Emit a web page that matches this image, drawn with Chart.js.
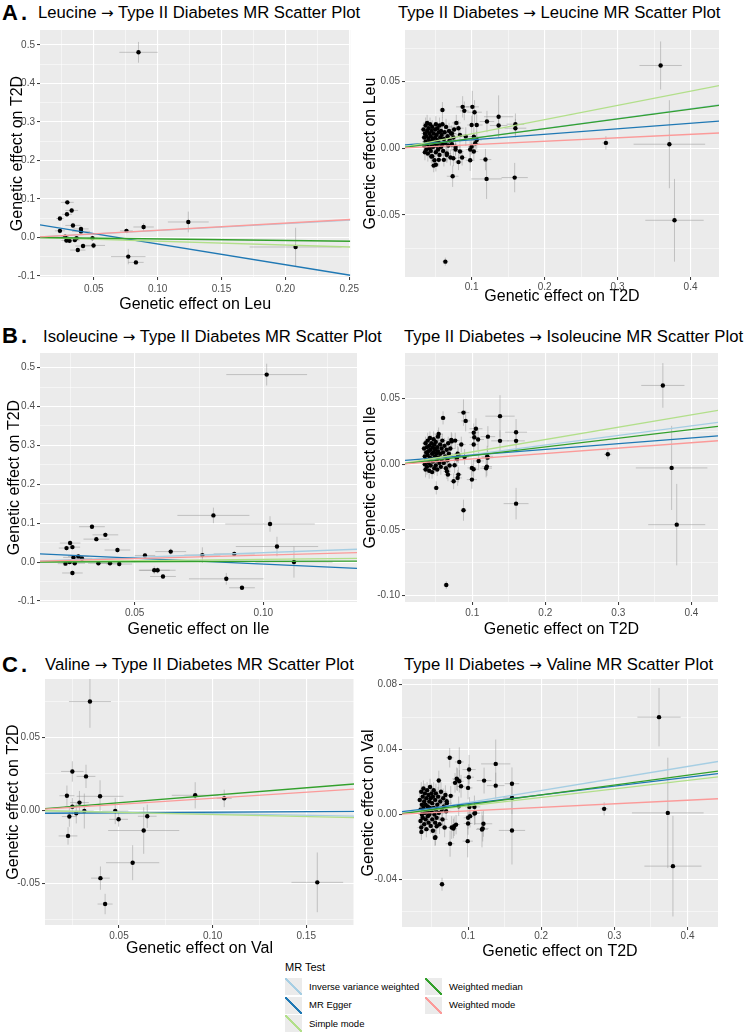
<!DOCTYPE html>
<html>
<head>
<meta charset="utf-8">
<script src="https://cdn.jsdelivr.net/npm/chart.js@4.4.1/dist/chart.umd.min.js"></script>
<style>
  body { margin: 0; background: #fff; font-family: "Liberation Sans", Arial, sans-serif; }
  #page { position: relative; width: 744px; height: 1034px; overflow: hidden; }
  canvas { position: absolute; }
  .tag { position: absolute; font-size: 22px; font-weight: bold; line-height: 24px; letter-spacing: 3px; }
  .ttl { position: absolute; font-size: 16.7px; line-height: 20px; white-space: nowrap; color: #000; }
  .arr { font-family: "DejaVu Sans", sans-serif; font-size: 15px; }
  .lg-title { position: absolute; font-size: 11px; line-height: 14px; }
  .lg-key { position: absolute; width: 17px; height: 17px; }
  .lg-text { position: absolute; font-size: 9.5px; line-height: 12px; white-space: nowrap; }
</style>
</head>
<body>
<div id="page">
  <div class="tag" style="left:2px;top:1px">A.</div>
  <div class="ttl" style="left:38px;top:3px">Leucine <span class="arr">→</span> Type II Diabetes MR Scatter Plot</div>
  <div class="ttl" style="left:398px;top:3px">Type II Diabetes <span class="arr">→</span> Leucine MR Scatter Plot</div>
  <div class="tag" style="left:2px;top:324px">B.</div>
  <div class="ttl" style="left:43px;top:327px">Isoleucine <span class="arr">→</span> Type II Diabetes MR Scatter Plot</div>
  <div class="ttl" style="left:404px;top:327px">Type II Diabetes <span class="arr">→</span> Isoleucine MR Scatter Plot</div>
  <div class="tag" style="left:2px;top:653px">C.</div>
  <div class="ttl" style="left:45px;top:655px">Valine <span class="arr">→</span> Type II Diabetes MR Scatter Plot</div>
  <div class="ttl" style="left:404px;top:655px">Type II Diabetes <span class="arr">→</span> Valine MR Scatter Plot</div>
  <div id="legend"></div>
</div>
<script>
// MR methods, in legend order
const methodNames = ['Inverse variance weighted', 'MR Egger', 'Simple mode', 'Weighted median', 'Weighted mode'];
const methodColors = ['#a6cee3', '#1f78b4', '#b2df8a', '#33a02c', '#fb9a99'];

// SNP effects: [exposure beta, outcome beta, exposure se, outcome se]
const leuToT2d = [
  [0.085, 0.481, 0.015, 0.027], [0.124, 0.040, 0.016, 0.027], [0.208, -0.025, 0.036, 0.05],
  [0.077, -0.050, 0.0135, 0.02], [0.083, -0.065, 0.006, 0.006], [0.0756, 0.017, 0.005, 0.006],
  [0.089, 0.027, 0.008, 0.01], [0.0293, 0.091, 0.005, 0.006], [0.0327, 0.070, 0.005, 0.006],
  [0.029, 0.060, 0.004, 0.007], [0.0235, 0.049, 0.003, 0.006], [0.0337, 0.031, 0.006, 0.007],
  [0.040, 0.022, 0.006, 0.006], [0.040, 0.0155, 0.007, 0.005], [0.0235, 0.017, 0.004, 0.007],
  [0.0276, 0.002, 0.003, 0.005], [0.0286, -0.008, 0.004, 0.006], [0.031, -0.009, 0.004, 0.006],
  [0.0352, -0.007, 0.004, 0.006], [0.0365, -0.002, 0.004, 0.005], [0.049, -0.002, 0.004, 0.006],
  [0.0375, -0.033, 0.006, 0.006], [0.0416, -0.0225, 0.006, 0.006], [0.0498, -0.021, 0.009, 0.008]
];
const t2dToLeu = [
  [0.359, 0.062, 0.029, 0.018], [0.284, 0.004, 0.005, 0.005], [0.371, 0.003, 0.049, 0.033],
  [0.378, -0.054, 0.040, 0.031], [0.064, -0.085, 0.004, 0.003], [0.159, -0.022, 0.018, 0.011],
  [0.1205, -0.023, 0.021, 0.015], [0.119, -0.0085, 0.008, 0.008], [0.074, -0.021, 0.008, 0.008],
  [0.137, 0.0236, 0.02, 0.016], [0.137, 0.017, 0.012, 0.008], [0.160, 0.018, 0.012, 0.008],
  [0.160, 0.015, 0.015, 0.007], [0.121, 0.020, 0.01, 0.008], [0.101, 0.031, 0.009, 0.012],
  [0.0877, 0.031, 0.009, 0.008], [0.090, 0.028, 0.006, 0.007], [0.104, 0.027, 0.01, 0.009],
  [0.060, 0.0286, 0.004, 0.006], [0.107, 0.0174, 0.008, 0.008], [0.100, 0.0174, 0.006, 0.007],
  [0.079, 0.019, 0.006, 0.006], [0.082, 0.015, 0.007, 0.006], [0.084, 0.010, 0.006, 0.006],
  [0.073, 0.011, 0.006, 0.006], [0.092, 0.0087, 0.007, 0.007], [0.103, 0.0087, 0.006, 0.007],
  [0.107, 0.0062, 0.007, 0.007], [0.105, 0.0037, 0.006, 0.006], [0.100, 0.0012, 0.005, 0.006],
  [0.098, -0.001, 0.006, 0.007], [0.103, -0.0025, 0.006, 0.006], [0.078, -0.001, 0.005, 0.005],
  [0.084, -0.0025, 0.005, 0.006], [0.075, -0.0075, 0.005, 0.006], [0.087, -0.007, 0.006, 0.006],
  [0.082, -0.0104, 0.005, 0.006], [0.098, -0.009, 0.006, 0.008], [0.051, -0.0124, 0.004, 0.005],
  [0.055, -0.0087, 0.005, 0.005], [0.066, -0.005, 0.005, 0.006], [0.062, -0.0087, 0.005, 0.005],
  [0.0447, -0.0062, 0.004, 0.005],
  [0.034, 0.014, 0.004, 0.005], [0.035, 0.008, 0.004, 0.006], [0.035, 0.002, 0.004, 0.005],
  [0.036, -0.003, 0.004, 0.006], [0.036, 0.011, 0.005, 0.005], [0.037, 0.017, 0.004, 0.006],
  [0.037, 0.005, 0.005, 0.005], [0.038, -0.001, 0.004, 0.005], [0.038, 0.009, 0.005, 0.006],
  [0.039, 0.013, 0.004, 0.005], [0.039, 0.019, 0.005, 0.006], [0.040, 0.003, 0.005, 0.005],
  [0.040, -0.004, 0.004, 0.006], [0.041, 0.007, 0.005, 0.005], [0.041, 0.015, 0.005, 0.006],
  [0.042, 0.011, 0.005, 0.005], [0.042, 0.000, 0.004, 0.005], [0.043, 0.005, 0.005, 0.006],
  [0.043, 0.018, 0.005, 0.005], [0.044, -0.002, 0.005, 0.006], [0.044, 0.009, 0.005, 0.005],
  [0.045, 0.013, 0.005, 0.006], [0.045, 0.003, 0.005, 0.005], [0.046, -0.006, 0.005, 0.006],
  [0.046, 0.016, 0.005, 0.005], [0.047, 0.007, 0.005, 0.006], [0.047, 0.001, 0.005, 0.005],
  [0.048, -0.013, 0.004, 0.005], [0.048, 0.011, 0.005, 0.006], [0.049, 0.004, 0.005, 0.005],
  [0.049, -0.009, 0.005, 0.006], [0.050, 0.014, 0.006, 0.005], [0.050, 0.008, 0.005, 0.006],
  [0.051, 0.018, 0.006, 0.006], [0.051, -0.003, 0.005, 0.005], [0.052, 0.002, 0.006, 0.006],
  [0.052, 0.010, 0.005, 0.005], [0.053, 0.006, 0.006, 0.006], [0.053, 0.015, 0.005, 0.005],
  [0.054, -0.001, 0.006, 0.006], [0.055, 0.012, 0.006, 0.005], [0.055, 0.004, 0.005, 0.006],
  [0.056, 0.017, 0.006, 0.006], [0.056, -0.005, 0.005, 0.005], [0.057, 0.008, 0.006, 0.006],
  [0.058, 0.001, 0.006, 0.005], [0.058, 0.013, 0.006, 0.006], [0.059, 0.010, 0.006, 0.005],
  [0.060, 0.003, 0.006, 0.006], [0.060, 0.018, 0.006, 0.005], [0.061, -0.002, 0.006, 0.006],
  [0.062, 0.007, 0.006, 0.005], [0.063, 0.012, 0.006, 0.006], [0.064, 0.004, 0.006, 0.005],
  [0.065, 0.016, 0.007, 0.006], [0.066, -0.004, 0.006, 0.006], [0.067, 0.009, 0.007, 0.005],
  [0.068, 0.002, 0.006, 0.006], [0.069, 0.013, 0.007, 0.006], [0.070, 0.006, 0.007, 0.005],
  [0.071, -0.007, 0.006, 0.006], [0.072, 0.011, 0.007, 0.006], [0.073, 0.003, 0.007, 0.005],
  [0.075, 0.008, 0.007, 0.006], [0.076, 0.014, 0.007, 0.006], [0.078, 0.001, 0.007, 0.006]
];
const ileToT2d = [
  [0.1013, 0.482, 0.0157, 0.028], [0.0806, 0.120, 0.014, 0.02], [0.1026, 0.098, 0.0174, 0.02],
  [0.1053, 0.040, 0.016, 0.025], [0.1119, 0.0, 0.015, 0.04], [0.0917, -0.066, 0.005, 0.004],
  [0.0856, -0.043, 0.0145, 0.015], [0.0887, 0.021, 0.008, 0.006], [0.0763, 0.018, 0.007, 0.02],
  [0.064, 0.027, 0.006, 0.008], [0.054, 0.017, 0.004, 0.006], [0.0576, -0.021, 0.006, 0.01],
  [0.0589, -0.021, 0.007, 0.008], [0.061, -0.037, 0.005, 0.006], [0.0433, 0.031, 0.005, 0.006],
  [0.044, -0.005, 0.005, 0.006], [0.0404, -0.003, 0.004, 0.005], [0.0386, 0.070, 0.005, 0.006],
  [0.0351, 0.059, 0.005, 0.006], [0.0334, 0.091, 0.005, 0.006], [0.0359, -0.003, 0.004, 0.005],
  [0.0249, 0.049, 0.004, 0.006], [0.0235, 0.036, 0.003, 0.006], [0.0258, 0.0385, 0.003, 0.006],
  [0.0262, 0.012, 0.004, 0.006], [0.0281, 0.0146, 0.004, 0.006], [0.0295, 0.0094, 0.004, 0.005],
  [0.0231, -0.004, 0.003, 0.005], [0.0247, 0.0, 0.003, 0.005], [0.0267, -0.003, 0.004, 0.005],
  [0.0258, -0.028, 0.004, 0.006]
];
const t2dToIle = [
  [0.361, 0.060, 0.0296, 0.017], [0.2856, 0.0076, 0.005, 0.004], [0.373, -0.0028, 0.049, 0.032],
  [0.380, -0.046, 0.039, 0.031], [0.160, -0.030, 0.017, 0.012], [0.088, -0.035, 0.004, 0.008],
  [0.0644, -0.092, 0.004, 0.003], [0.138, 0.0366, 0.02, 0.016], [0.138, 0.0178, 0.012, 0.008],
  [0.160, 0.0244, 0.015, 0.01], [0.160, 0.0178, 0.012, 0.007], [0.1214, 0.021, 0.01, 0.008],
  [0.1205, 0.006, 0.008, 0.008], [0.119, -0.003, 0.008, 0.007], [0.088, 0.0393, 0.008, 0.01],
  [0.091, 0.033, 0.006, 0.008], [0.060, 0.0353, 0.004, 0.005], [0.105, 0.027, 0.009, 0.008],
  [0.102, 0.024, 0.007, 0.007], [0.108, 0.0188, 0.008, 0.008], [0.1027, 0.0205, 0.006, 0.007],
  [0.085, 0.015, 0.006, 0.006], [0.0767, 0.018, 0.006, 0.006], [0.0713, 0.0185, 0.005, 0.006],
  [0.081, 0.0069, 0.006, 0.006], [0.102, 0.015, 0.006, 0.007], [0.1087, 0.0025, 0.007, 0.007],
  [0.121, 0.005, 0.008, 0.007], [0.12, -0.0018, 0.007, 0.007], [0.0995, -0.0028, 0.006, 0.006],
  [0.1018, -0.0038, 0.006, 0.007], [0.0995, -0.0117, 0.007, 0.007], [0.080, -0.0104, 0.006, 0.006],
  [0.0745, -0.013, 0.005, 0.006], [0.081, -0.0079, 0.005, 0.006], [0.0653, -0.0053, 0.005, 0.006],
  [0.0667, -0.0079, 0.005, 0.005], [0.0507, -0.018, 0.004, 0.005], [0.0758, -0.0008, 0.005, 0.006],
  [0.0895, 0.0056, 0.006, 0.006], [0.079, 0.004, 0.005, 0.006], [0.080, 0.008, 0.005, 0.006],
  [0.072, 0.0175, 0.005, 0.006],
  [0.034, 0.012, 0.004, 0.005], [0.035, 0.006, 0.004, 0.006], [0.035, 0.000, 0.004, 0.005],
  [0.036, -0.004, 0.004, 0.006], [0.036, 0.016, 0.005, 0.005], [0.037, 0.009, 0.004, 0.006],
  [0.037, 0.003, 0.005, 0.005], [0.038, 0.013, 0.004, 0.005], [0.038, -0.002, 0.005, 0.006],
  [0.039, 0.007, 0.004, 0.005], [0.039, 0.018, 0.005, 0.006], [0.040, 0.010, 0.005, 0.005],
  [0.040, 0.001, 0.004, 0.006], [0.041, 0.014, 0.005, 0.005], [0.041, -0.005, 0.005, 0.006],
  [0.042, 0.005, 0.005, 0.005], [0.042, 0.020, 0.004, 0.005], [0.043, 0.011, 0.005, 0.006],
  [0.043, -0.001, 0.005, 0.005], [0.044, 0.016, 0.005, 0.006], [0.044, 0.004, 0.005, 0.005],
  [0.045, 0.008, 0.005, 0.006], [0.045, -0.006, 0.005, 0.005], [0.046, 0.013, 0.005, 0.006],
  [0.046, 0.002, 0.005, 0.005], [0.047, 0.019, 0.005, 0.006], [0.047, 0.009, 0.005, 0.005],
  [0.048, -0.003, 0.004, 0.005], [0.048, 0.015, 0.005, 0.006], [0.049, 0.006, 0.005, 0.005],
  [0.049, 0.011, 0.005, 0.006], [0.050, -0.001, 0.006, 0.005], [0.050, 0.017, 0.005, 0.006],
  [0.051, 0.003, 0.006, 0.006], [0.051, 0.008, 0.005, 0.005], [0.052, 0.013, 0.006, 0.006],
  [0.052, -0.004, 0.005, 0.005], [0.053, 0.010, 0.006, 0.006], [0.053, 0.021, 0.005, 0.005],
  [0.054, 0.005, 0.006, 0.006], [0.054, 0.023, 0.006, 0.005], [0.055, 0.001, 0.005, 0.006],
  [0.056, 0.015, 0.006, 0.006], [0.056, 0.008, 0.005, 0.005], [0.057, -0.002, 0.006, 0.006],
  [0.058, 0.012, 0.006, 0.005], [0.058, 0.004, 0.006, 0.006], [0.059, 0.018, 0.006, 0.005],
  [0.060, 0.009, 0.006, 0.006], [0.061, 0.001, 0.006, 0.005], [0.062, 0.014, 0.006, 0.006],
  [0.063, 0.006, 0.006, 0.005], [0.064, -0.003, 0.006, 0.006], [0.065, 0.011, 0.007, 0.006],
  [0.066, 0.003, 0.006, 0.006], [0.067, 0.016, 0.007, 0.005], [0.068, 0.008, 0.006, 0.006],
  [0.069, -0.001, 0.007, 0.006], [0.070, 0.012, 0.007, 0.005]
];
const valToT2d = [
  [0.0345, 0.0747, 0.0112, 0.018], [0.0251, 0.0267, 0.006, 0.007], [0.0222, 0.0100, 0.004, 0.007],
  [0.0324, 0.0233, 0.005, 0.008], [0.0399, 0.0096, 0.0125, 0.011], [0.0289, 0.0053, 0.005, 0.008],
  [0.0251, 0.0025, 0.004, 0.006], [0.0315, -0.0005, 0.005, 0.012], [0.0272, -0.002, 0.004, 0.007],
  [0.0235, -0.0043, 0.004, 0.007], [0.0228, -0.0176, 0.005, 0.006], [0.048, -0.0005, 0.007, 0.009],
  [0.0498, -0.0062, 0.005, 0.005], [0.0651, -0.0041, 0.005, 0.008], [0.0632, -0.0139, 0.019, 0.016],
  [0.0573, -0.036, 0.0142, 0.012], [0.0401, -0.0466, 0.005, 0.008], [0.0426, -0.0644, 0.004, 0.007],
  [0.0907, 0.0103, 0.0125, 0.009], [0.1062, 0.0082, 0.004, 0.006], [0.1559, -0.0495, 0.0138, 0.0205]
];
const t2dToVal = [
  [0.361, 0.060, 0.0296, 0.018], [0.286, 0.0035, 0.005, 0.004], [0.373, 0.001, 0.049, 0.034],
  [0.380, -0.0318, 0.039, 0.031], [0.0644, -0.043, 0.004, 0.004], [0.160, -0.0098, 0.018, 0.021],
  [0.160, 0.0103, 0.012, 0.01], [0.160, 0.019, 0.01, 0.01], [0.1378, 0.0312, 0.02, 0.015],
  [0.1378, 0.0178, 0.012, 0.008], [0.1219, 0.0209, 0.01, 0.008], [0.121, -0.0057, 0.012, 0.008],
  [0.119, -0.0092, 0.008, 0.011], [0.1087, 0.0006, 0.007, 0.007], [0.1087, 0.0047, 0.008, 0.007],
  [0.1014, 0.0277, 0.009, 0.009], [0.101, 0.023, 0.007, 0.008], [0.100, 0.0164, 0.006, 0.007],
  [0.100, -0.002, 0.006, 0.007], [0.100, -0.0055, 0.006, 0.007], [0.0995, -0.0164, 0.007, 0.01],
  [0.088, 0.0324, 0.006, 0.009], [0.0749, 0.035, 0.005, 0.006], [0.0754, -0.018, 0.006, 0.008],
  [0.081, -0.0072, 0.005, 0.006], [0.0776, -0.008, 0.005, 0.007], [0.0553, -0.0139, 0.004, 0.005],
  [0.0362, -0.0107, 0.003, 0.005], [0.060, 0.021, 0.004, 0.006], [0.0854, 0.0215, 0.006, 0.007],
  [0.0845, 0.022, 0.006, 0.007], [0.0822, 0.0195, 0.005, 0.006], [0.088, 0.0205, 0.006, 0.007],
  [0.0904, 0.0174, 0.006, 0.007], [0.0763, 0.0115, 0.005, 0.006], [0.0708, 0.0082, 0.005, 0.006],
  [0.0872, 0.0051, 0.006, 0.006], [0.1018, 0.0047, 0.006, 0.006], [0.1027, -0.001, 0.006, 0.007],
  [0.1096, 0.001, 0.007, 0.007], [0.12, -0.0086, 0.008, 0.008], [0.080, -0.0086, 0.005, 0.006],
  [0.0836, -0.0062, 0.005, 0.006], [0.0571, -0.0072, 0.004, 0.005], [0.0549, -0.0144, 0.004, 0.005],
  [0.034, 0.009, 0.004, 0.005], [0.035, 0.003, 0.004, 0.006], [0.035, -0.004, 0.004, 0.005],
  [0.036, 0.014, 0.004, 0.006], [0.036, -0.008, 0.005, 0.005], [0.037, 0.006, 0.004, 0.006],
  [0.037, 0.000, 0.005, 0.005], [0.038, 0.011, 0.004, 0.005], [0.038, -0.002, 0.005, 0.006],
  [0.039, 0.016, 0.004, 0.005], [0.039, 0.004, 0.005, 0.006], [0.040, -0.006, 0.005, 0.005],
  [0.040, 0.008, 0.004, 0.006], [0.041, 0.001, 0.005, 0.005], [0.041, 0.013, 0.005, 0.006],
  [0.042, -0.003, 0.005, 0.005], [0.042, 0.006, 0.004, 0.005], [0.043, 0.010, 0.005, 0.006],
  [0.043, -0.009, 0.005, 0.005], [0.044, 0.002, 0.005, 0.006], [0.044, 0.015, 0.005, 0.005],
  [0.045, 0.005, 0.005, 0.006], [0.045, -0.001, 0.005, 0.005], [0.046, 0.012, 0.005, 0.006],
  [0.046, -0.005, 0.005, 0.005], [0.047, 0.008, 0.005, 0.006], [0.047, 0.000, 0.005, 0.005],
  [0.048, 0.017, 0.004, 0.005], [0.048, 0.004, 0.005, 0.006], [0.049, -0.007, 0.005, 0.005],
  [0.049, 0.010, 0.005, 0.006], [0.050, 0.002, 0.006, 0.005], [0.050, 0.013, 0.005, 0.006],
  [0.051, -0.003, 0.006, 0.006], [0.051, 0.007, 0.005, 0.005], [0.052, 0.011, 0.006, 0.006],
  [0.052, -0.010, 0.005, 0.005], [0.053, 0.004, 0.006, 0.006], [0.053, 0.015, 0.005, 0.005],
  [0.054, 0.000, 0.006, 0.006], [0.055, 0.009, 0.006, 0.005], [0.055, -0.005, 0.005, 0.006],
  [0.056, 0.013, 0.006, 0.006], [0.056, 0.003, 0.005, 0.005], [0.057, -0.002, 0.006, 0.006],
  [0.058, 0.006, 0.006, 0.005], [0.059, 0.011, 0.006, 0.006], [0.060, 0.001, 0.006, 0.005],
  [0.061, -0.006, 0.006, 0.006], [0.062, 0.008, 0.006, 0.005], [0.063, 0.014, 0.006, 0.006],
  [0.064, 0.003, 0.006, 0.005], [0.065, -0.003, 0.007, 0.006], [0.066, 0.010, 0.006, 0.006],
  [0.067, 0.005, 0.007, 0.005], [0.068, -0.008, 0.006, 0.006], [0.069, 0.012, 0.007, 0.006],
  [0.070, 0.002, 0.007, 0.005], [0.071, 0.007, 0.007, 0.006]
];

// MR estimates per method (methodNames order)
const leuToT2dSlopes = [0.178, -0.54, -0.10, -0.04, 0.185];
const leuToT2dIntercepts = [0, 0.037, 0, 0, 0];
const t2dToLeuSlopes = [0.074, 0.0416, 0.107, 0.073, 0.026];
const t2dToLeuIntercepts = [0, 0.0021, 0, 0, 0];
const ileToT2dSlopes = [0.242, -0.30, 0.069, 0.02, 0.18];
const ileToT2dIntercepts = [0, 0.025, 0, 0, 0];
const t2dToIleSlopes = [0.073, 0.0434, 0.094, 0.066, 0.041];
const t2dToIleIntercepts = [0, 0.00266, 0, 0, 0];
const valToT2dSlopes = [-0.023, 0.0079, -0.0285, 0.103, 0.083];
const valToT2dIntercepts = [0, -0.0021, 0, 0, 0];
const t2dToValSlopes = [0.074, 0.0542, 0.0525, 0.0605, 0.022];
const t2dToValIntercepts = [0, 0.00127, 0, 0, 0];

// axis ranges
const leuToT2dXRange = [0.0079, 0.2508], leuToT2dYRange = [-0.103, 0.539];
const t2dToLeuXRange = [0.0087, 0.439], t2dToLeuYRange = [-0.0965, 0.0886];
const ileToT2dXRange = [0.0132, 0.1364], ileToT2dYRange = [-0.1026, 0.5375];
const t2dToIleXRange = [0.0079, 0.4365], t2dToIleYRange = [-0.1049, 0.0847];
const valToT2dXRange = [0.0105, 0.1755], valToT2dYRange = [-0.0788, 0.0902];
const t2dToValXRange = [0.0097, 0.4416], t2dToValYRange = [-0.0693, 0.0835];

// ticks: major values, their labels, minor grid values
const t2dOutTicks = [-0.1, 0, 0.1, 0.2, 0.3, 0.4, 0.5];
const t2dOutLabels = ['-0.1', '0.0', '0.1', '0.2', '0.3', '0.4', '0.5'];
const t2dOutMinor = [-0.05, 0.05, 0.15, 0.25, 0.35, 0.45];
const t2dExpTicks = [0.1, 0.2, 0.3, 0.4];
const t2dExpLabels = ['0.1', '0.2', '0.3', '0.4'];
const t2dExpMinor = [0.05, 0.15, 0.25, 0.35];
const leuExpTicks = [0.05, 0.10, 0.15, 0.20, 0.25];
const leuExpLabels = ['0.05', '0.10', '0.15', '0.20', '0.25'];
const leuExpMinor = [0.025, 0.075, 0.125, 0.175, 0.225];
const leuOutTicks = [-0.05, 0, 0.05];
const leuOutLabels = ['-0.05', '0.00', '0.05'];
const leuOutMinor = [-0.075, -0.025, 0.025, 0.075];
const ileExpTicks = [0.05, 0.10];
const ileExpLabels = ['0.05', '0.10'];
const ileExpMinor = [0.025, 0.075, 0.125];
const ileOutTicks = [-0.10, -0.05, 0, 0.05];
const ileOutLabels = ['-0.10', '-0.05', '0.00', '0.05'];
const ileOutMinor = [-0.075, -0.025, 0.025, 0.075];
const valExpTicks = [0.05, 0.10, 0.15];
const valExpLabels = ['0.05', '0.10', '0.15'];
const valExpMinor = [0.025, 0.075, 0.125, 0.175];
const valT2dTicks = [-0.05, 0, 0.05];
const valT2dLabels = ['-0.05', '0.00', '0.05'];
const valT2dMinor = [-0.075, -0.025, 0.025, 0.075];
const valOutTicks = [-0.04, 0, 0.04, 0.08];
const valOutLabels = ['-0.04', '0.00', '0.04', '0.08'];
const valOutMinor = [-0.06, -0.02, 0.02, 0.06];

const FONT = '"Liberation Sans", Arial, sans-serif';
Chart.defaults.font.family = FONT;

// canvas box and plot area for each panel (page px)
const panels = [
  { pts: leuToT2d, slopes: leuToT2dSlopes, icpts: leuToT2dIntercepts, xr: leuToT2dXRange, yr: leuToT2dYRange,
    x: [leuExpTicks, leuExpLabels, leuExpMinor], y: [t2dOutTicks, t2dOutLabels, t2dOutMinor],
    xTitle: 'Genetic effect on Leu', yTitle: 'Genetic effect on T2D',
    box: { left: 0, top: 22, right: 362, bottom: 314, pl: 40, pt: 29, pr: 357, pb: 277, yPad: 8, xPad: 3 } },
  { pts: t2dToLeu, slopes: t2dToLeuSlopes, icpts: t2dToLeuIntercepts, xr: t2dToLeuXRange, yr: t2dToLeuYRange,
    x: [t2dExpTicks, t2dExpLabels, t2dExpMinor], y: [leuOutTicks, leuOutLabels, leuOutMinor],
    xTitle: 'Genetic effect on T2D', yTitle: 'Genetic effect on Leu',
    box: { left: 358, top: 22, right: 724, bottom: 306, pl: 405, pt: 29, pr: 719, pb: 277, yPad: 3, xPad: 1 } },
  { pts: ileToT2d, slopes: ileToT2dSlopes, icpts: ileToT2dIntercepts, xr: ileToT2dXRange, yr: ileToT2dYRange,
    x: [ileExpTicks, ileExpLabels, ileExpMinor], y: [t2dOutTicks, t2dOutLabels, t2dOutMinor],
    xTitle: 'Genetic effect on Ile', yTitle: 'Genetic effect on T2D',
    box: { left: 0, top: 345, right: 362, bottom: 639, pl: 40, pt: 353, pr: 357, pb: 602, yPad: 5, xPad: 2 } },
  { pts: t2dToIle, slopes: t2dToIleSlopes, icpts: t2dToIleIntercepts, xr: t2dToIleXRange, yr: t2dToIleYRange,
    x: [t2dExpTicks, t2dExpLabels, t2dExpMinor], y: [ileOutTicks, ileOutLabels, ileOutMinor],
    xTitle: 'Genetic effect on T2D', yTitle: 'Genetic effect on Ile',
    box: { left: 358, top: 345, right: 724, bottom: 639, pl: 405, pt: 353, pr: 718, pb: 602, yPad: 3, xPad: 2 } },
  { pts: valToT2d, slopes: valToT2dSlopes, icpts: valToT2dIntercepts, xr: valToT2dXRange, yr: valToT2dYRange,
    x: [valExpTicks, valExpLabels, valExpMinor], y: [valT2dTicks, valT2dLabels, valT2dMinor],
    xTitle: 'Genetic effect on Val', yTitle: 'Genetic effect on T2D',
    box: { left: 0, top: 671, right: 360, bottom: 958, pl: 45, pt: 678, pr: 354, pb: 925, yPad: 4, xPad: 2 } },
  { pts: t2dToVal, slopes: t2dToValSlopes, icpts: t2dToValIntercepts, xr: t2dToValXRange, yr: t2dToValYRange,
    x: [t2dExpTicks, t2dExpLabels, t2dExpMinor], y: [valOutTicks, valOutLabels, valOutMinor],
    xTitle: 'Genetic effect on T2D', yTitle: 'Genetic effect on Val',
    box: { left: 358, top: 671, right: 724, bottom: 961, pl: 402, pt: 678, pr: 718, pb: 927, yPad: 1, xPad: 0 } }
];

const isMajor = (majors, v) => majors.some(m => Math.abs(m - v) < 1e-9);

function axis(range, ticks, title, isX, b) {
  const [majors, labels, minors] = ticks;
  const all = majors.concat(minors).filter(v => v >= range[0] && v <= range[1]).sort((a, c) => a - c);
  return {
    type: 'linear',
    position: isX ? 'bottom' : 'left',
    min: range[0],
    max: range[1],
    afterBuildTicks: s => { s.ticks = all.map(v => ({ value: v })); },
    afterFit: s => {
      if (isX) s.height = b.bottom - b.pb;
      else s.width = b.pl - b.left;
    },
    border: { display: false },
    grid: {
      color: '#ffffff',
      lineWidth: c => (c.tick && isMajor(majors, c.tick.value)) ? 1.1 : 0.5,
      drawTicks: true,
      tickLength: 3,
      tickWidth: 1,
      tickColor: c => (c.tick && isMajor(majors, c.tick.value)) ? '#333333' : 'rgba(0,0,0,0)'
    },
    ticks: {
      autoSkip: false,
      maxRotation: 0,
      padding: isX ? b.xPad : 2,
      color: '#4d4d4d',
      font: { size: 10 },
      callback: v => {
        const i = majors.findIndex(m => Math.abs(m - v) < 1e-9);
        return i < 0 ? '' : labels[i];
      }
    },
    title: {
      display: true,
      text: title,
      color: '#000',
      font: { size: 16 },
      padding: isX ? { top: 0, bottom: 0 } : { top: b.yPad, bottom: 0 }
    }
  };
}

const panelBg = {
  id: 'panelBg',
  beforeDraw(chart) {
    const a = chart.chartArea, ctx = chart.ctx;
    ctx.save();
    ctx.fillStyle = '#ebebeb';
    ctx.fillRect(a.left, a.top, a.right - a.left, a.bottom - a.top);
    ctx.restore();
  }
};

function errorBars(pts) {
  return {
    id: 'errorBars',
    beforeDatasetsDraw(chart) {
      const xs = chart.scales.x, ys = chart.scales.y, a = chart.chartArea, ctx = chart.ctx;
      ctx.save();
      ctx.beginPath();
      ctx.rect(a.left, a.top, a.right - a.left, a.bottom - a.top);
      ctx.clip();
      ctx.strokeStyle = 'rgba(140,140,140,0.45)';
      ctx.lineWidth = 1;
      pts.forEach(([bx, by, sx, sy]) => {
        const px = xs.getPixelForValue(bx), py = ys.getPixelForValue(by);
        ctx.beginPath();
        ctx.moveTo(xs.getPixelForValue(bx - sx), py);
        ctx.lineTo(xs.getPixelForValue(bx + sx), py);
        ctx.moveTo(px, ys.getPixelForValue(by - sy));
        ctx.lineTo(px, ys.getPixelForValue(by + sy));
        ctx.stroke();
      });
      ctx.restore();
    }
  };
}

const page = document.getElementById('page');

panels.forEach(p => {
  const b = p.box;
  const cv = document.createElement('canvas');
  cv.width = b.right - b.left;
  cv.height = b.bottom - b.top;
  cv.style.left = b.left + 'px';
  cv.style.top = b.top + 'px';
  page.appendChild(cv);

  // fitted lines, weighted mode first so it sits on top
  const fits = [4, 3, 2, 1, 0].map(k => ({
    label: methodNames[k],
    data: p.xr.map(x => ({ x: x, y: p.icpts[k] + p.slopes[k] * x })),
    showLine: true,
    borderColor: methodColors[k],
    borderWidth: 1.3,
    pointRadius: 0,
    fill: false
  }));

  new Chart(cv, {
    type: 'scatter',
    data: {
      datasets: fits.concat([{
        label: 'SNPs',
        data: p.pts.map(d => ({ x: d[0], y: d[1] })),
        pointRadius: 2.2,
        pointBackgroundColor: '#000',
        pointBorderWidth: 0
      }])
    },
    options: {
      responsive: false,
      animation: false,
      layout: { padding: { top: b.pt - b.top, right: b.right - b.pr, left: 0, bottom: 0 } },
      plugins: { legend: { display: false }, tooltip: { enabled: false } },
      scales: {
        x: axis(p.xr, p.x, p.xTitle, true, b),
        y: axis(p.yr, p.y, p.yTitle, false, b)
      }
    },
    plugins: [panelBg, errorBars(p.pts)]
  });
});

// shared legend
const legend = document.getElementById('legend');
const lgTitle = document.createElement('div');
lgTitle.className = 'lg-title';
lgTitle.style.left = '285px';
lgTitle.style.top = '960px';
lgTitle.textContent = 'MR Test';
legend.appendChild(lgTitle);
const colX = [285, 425];
const rowY = [978, 996.5, 1015];
methodNames.forEach((name, i) => {
  const col = i < 3 ? 0 : 1, row = i < 3 ? i : i - 3;
  const key = document.createElement('div');
  key.className = 'lg-key';
  key.style.left = colX[col] + 'px';
  key.style.top = rowY[row] + 'px';
  const c = methodColors[i];
  key.style.background = `linear-gradient(to top right, transparent calc(50% - 0.8px), ${c} calc(50% - 0.8px), ${c} calc(50% + 0.8px), transparent calc(50% + 0.8px)), #ebebeb`;
  legend.appendChild(key);
  const t = document.createElement('div');
  t.className = 'lg-text';
  t.style.left = (colX[col] + 24) + 'px';
  t.style.top = (rowY[row] + 2.5) + 'px';
  t.textContent = name;
  legend.appendChild(t);
});
</script>
</body>
</html>
